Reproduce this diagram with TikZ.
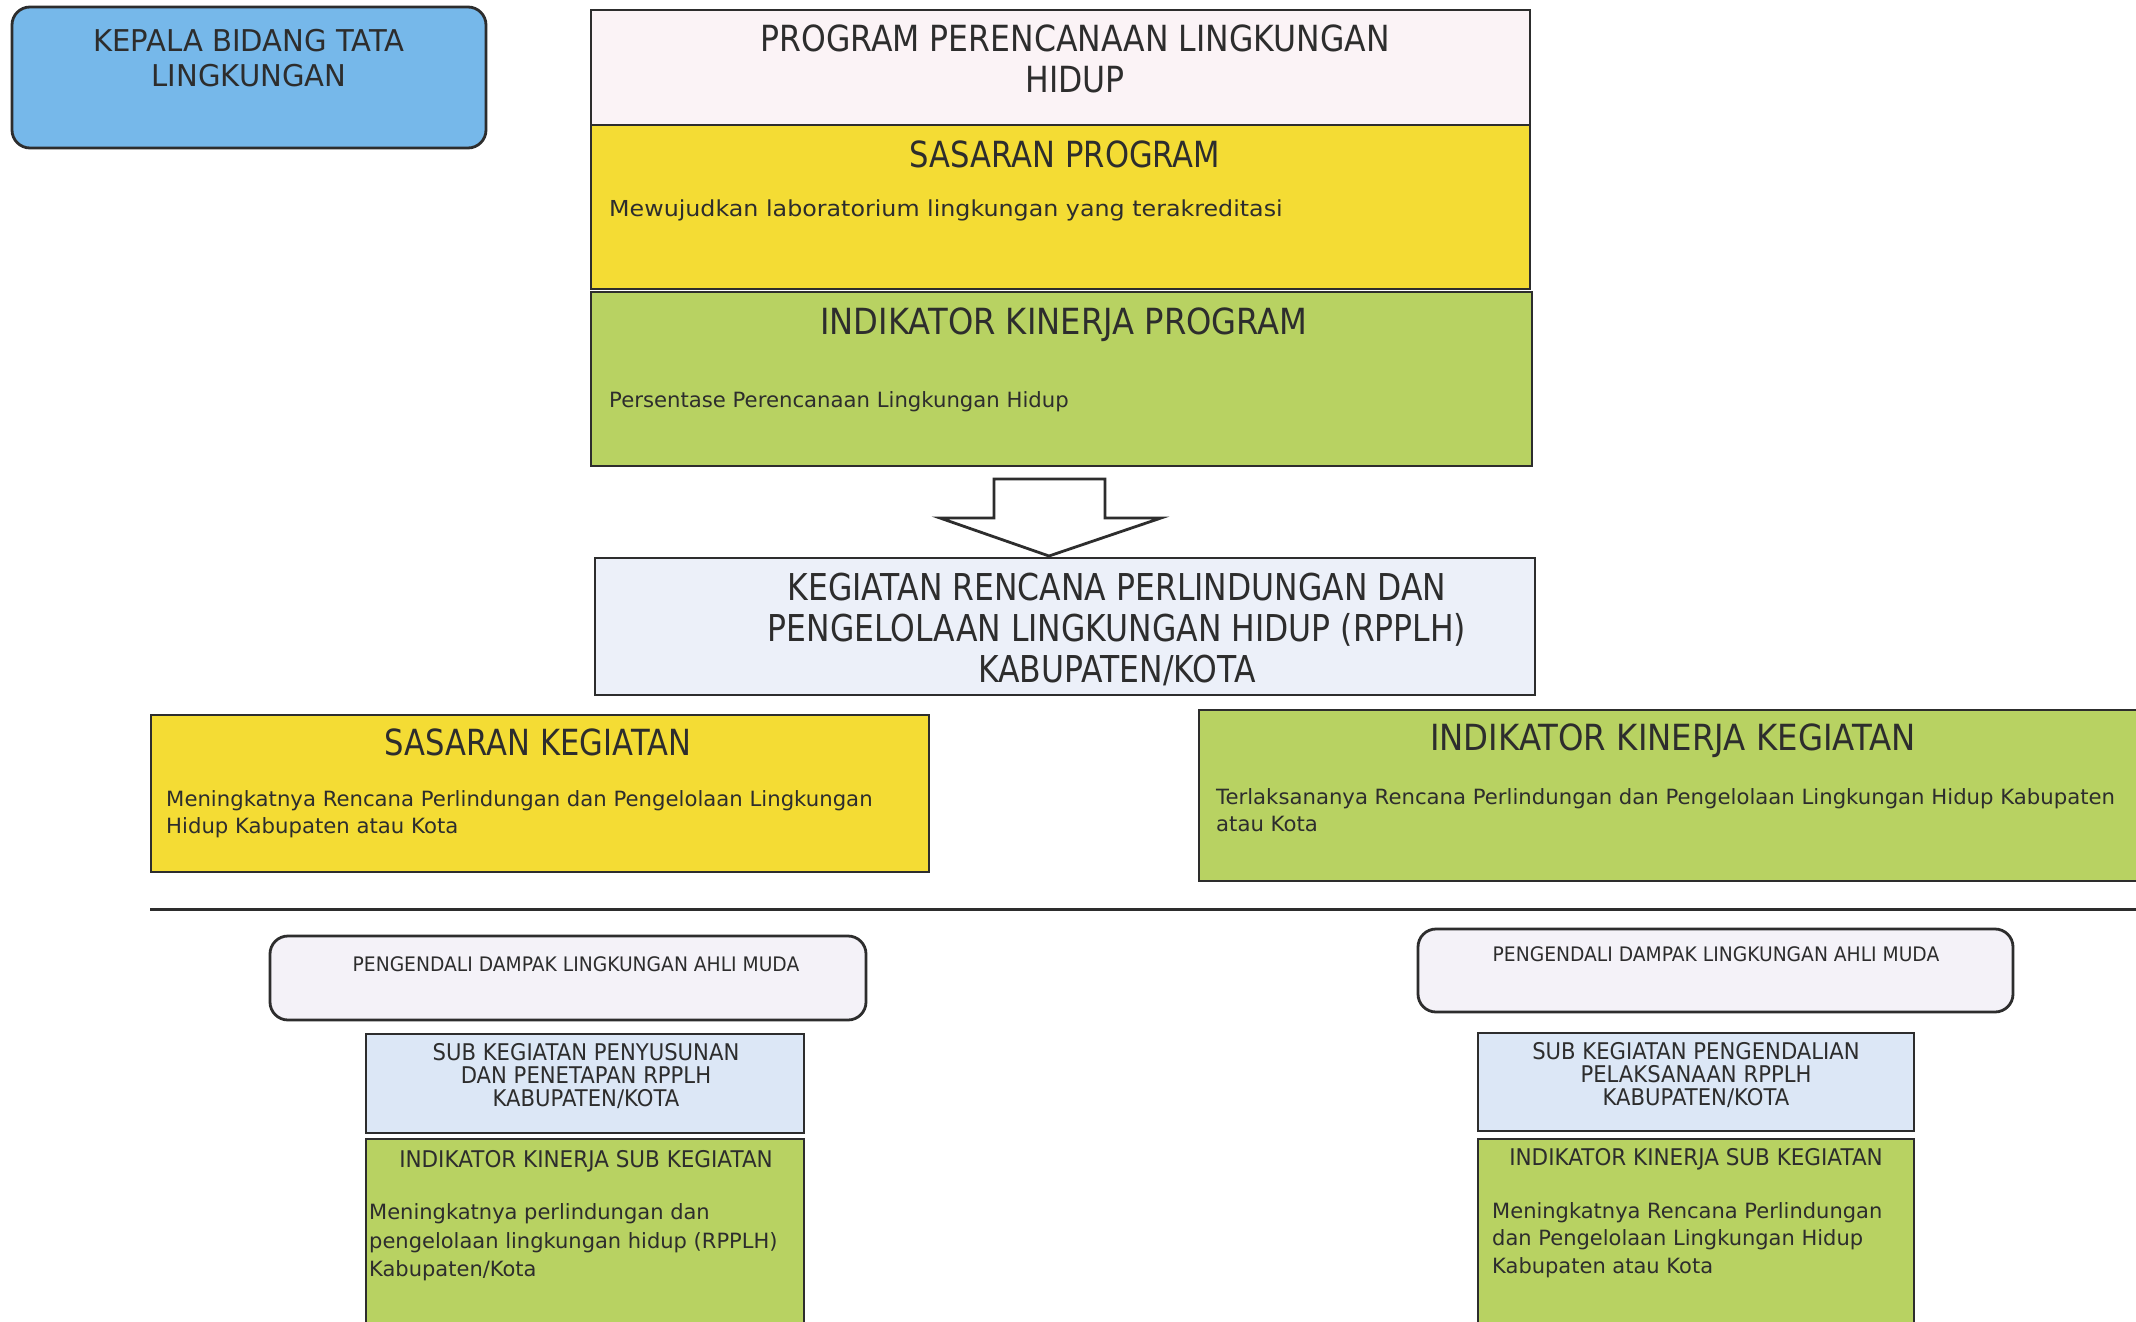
\documentclass[tikz,border=0pt]{standalone}
\usepackage{fontspec}
\setmainfont{DejaVu Sans}
\newcommand\tfnt[3]{\fontsize{#1}{#2}\selectfont\addfontfeature{FakeStretch=#3}}
\definecolor{kepalablue}{RGB}{118,184,234}
\definecolor{progpink}{RGB}{251,243,246}
\definecolor{yellowc}{RGB}{244,220,52}
\definecolor{greenc}{RGB}{184,210,98}
\definecolor{kegblue}{RGB}{236,240,249}
\definecolor{pengfill}{RGB}{244,242,248}
\definecolor{subblue}{RGB}{220,231,246}
\definecolor{inkc}{RGB}{45,45,45}
\begin{document}
\begin{tikzpicture}[x=1pt,y=-1pt,
  box/.style={draw=inkc, line width=2.8pt, inner sep=0pt},
  rbox/.style={box, rounded corners=18pt},
  lbl/.style={inner sep=0pt, align=center, text=inkc},
  body/.style={inner sep=0pt, align=left, anchor=west, text=inkc}]
\useasboundingbox (0,0) rectangle (2136,1322);
\fill[white] (0,0) rectangle (2136,1322);

% boxes
\node[rbox, fill=kepalablue, minimum width=474pt, minimum height=141pt] (kepala) at (249,77.5) {};
\node[box, fill=progpink, minimum width=939pt, minimum height=115pt] (program) at (1060.5,67.5) {};
\node[box, fill=yellowc, minimum width=939pt, minimum height=164pt] (sasprog) at (1060.5,207) {};
\node[box, fill=greenc, minimum width=941pt, minimum height=174pt] (indprog) at (1061.5,379) {};
\node[box, fill=kegblue, minimum width=940pt, minimum height=137pt] (kegiatan) at (1065,626.5) {};
\node[box, fill=yellowc, minimum width=778pt, minimum height=157pt] (saskeg) at (540,793.5) {};
\node[box, fill=greenc, minimum width=951pt, minimum height=171pt] (indkeg) at (1674.5,795.5) {};
\node[rbox, fill=pengfill, minimum width=596pt, minimum height=84pt] (pengL) at (568,978) {};
\node[box, fill=subblue, minimum width=438pt, minimum height=99pt] (subL) at (585,1083.5) {};
\node[box, fill=greenc, minimum width=438pt, minimum height=201pt] (indsubL) at (585,1239.5) {};
\node[rbox, fill=pengfill, minimum width=595pt, minimum height=83pt] (pengR) at (1715.5,970.5) {};
\node[box, fill=subblue, minimum width=436pt, minimum height=98pt] (subR) at (1696,1082) {};
\node[box, fill=greenc, minimum width=436pt, minimum height=201pt] (indsubR) at (1696,1239.5) {};

% separator line
\coordinate (sepL) at (150,909);
\coordinate (sepR) at (2140,909);
\draw[inkc, line width=3pt] (sepL) -- (sepR);

% hollow block arrow
\coordinate (a1) at (994,479);
\coordinate (a2) at (1105,479);
\coordinate (a3) at (1105,518);
\coordinate (a4) at (1161,518);
\coordinate (a5) at (1049,556);
\coordinate (a6) at (940,518);
\coordinate (a7) at (994,518);
\draw[inkc, line width=2.8pt, fill=white, line join=miter] (a1) -- (a2) -- (a3) -- (a4) -- (a5) -- (a6) -- (a7) -- cycle;

% texts
\node[lbl, font=\tfnt{30}{35}{0.97}] (tkepala) at (249,58.5) {KEPALA BIDANG TATA\\LINGKUNGAN};
\node[lbl, font=\tfnt{36}{41}{0.875}] (tprogram) at (1075,58.5) {PROGRAM PERENCANAAN LINGKUNGAN\\HIDUP};
\node[lbl, font=\tfnt{36}{40}{0.85}] (tsasprog) at (1065,154) {SASARAN PROGRAM};
\node[body, font=\tfnt{22}{30}{1.08}] (bsasprog) at (609,210) {Mewujudkan laboratorium lingkungan yang terakreditasi};
\node[lbl, font=\tfnt{36}{40}{0.895}] (tindprog) at (1064,325) {INDIKATOR KINERJA PROGRAM};
\node[body, font=\tfnt{21}{29}{1.01}] (bindprog) at (609,402) {Persentase Perencanaan Lingkungan Hidup};
\node[lbl, font=\tfnt{37}{41}{0.85}] (tkegiatan) at (1117,629) {KEGIATAN RENCANA PERLINDUNGAN DAN\\PENGELOLAAN LINGKUNGAN HIDUP (RPPLH)\\KABUPATEN/KOTA};
\node[lbl, font=\tfnt{36}{40}{0.85}] (tsaskeg) at (538,742) {SASARAN KEGIATAN};
\node[body, font=\tfnt{21}{27}{1.01}] (bsaskeg) at (166,814.5) {Meningkatnya Rencana Perlindungan dan Pengelolaan Lingkungan\\Hidup Kabupaten atau Kota};
\node[lbl, font=\tfnt{36}{39}{0.90}] (tindkeg) at (1673,741) {INDIKATOR KINERJA KEGIATAN};
\node[body, font=\tfnt{21}{27}{1.01}] (bindkeg) at (1216,810.5) {Terlaksananya Rencana Perlindungan dan Pengelolaan Lingkungan Hidup Kabupaten\\atau Kota};
\node[lbl, font=\tfnt{20}{24}{0.935}] (tpengL) at (576,964) {PENGENDALI DAMPAK LINGKUNGAN AHLI MUDA};
\node[lbl, font=\tfnt{23}{23}{0.92}] (tsubL) at (586,1076) {SUB KEGIATAN PENYUSUNAN\\DAN PENETAPAN RPPLH\\KABUPATEN/KOTA};
\node[lbl, font=\tfnt{23}{25}{0.935}] (tindsubL) at (586,1161) {INDIKATOR KINERJA SUB KEGIATAN};
\node[body, font=\tfnt{21}{28.5}{1.0}] (bindsubL) at (369,1242.5) {Meningkatnya perlindungan dan\\pengelolaan lingkungan hidup (RPPLH)\\Kabupaten/Kota};
\node[lbl, font=\tfnt{20}{24}{0.935}] (tpengR) at (1716,954) {PENGENDALI DAMPAK LINGKUNGAN AHLI MUDA};
\node[lbl, font=\tfnt{23}{23}{0.92}] (tsubR) at (1696,1075) {SUB KEGIATAN PENGENDALIAN\\PELAKSANAAN RPPLH\\KABUPATEN/KOTA};
\node[lbl, font=\tfnt{23}{25}{0.935}] (tindsubR) at (1696,1159) {INDIKATOR KINERJA SUB KEGIATAN};
\node[body, font=\tfnt{21}{27.5}{1.0}] (bindsubR) at (1492,1240) {Meningkatnya Rencana Perlindungan\\dan Pengelolaan Lingkungan Hidup\\Kabupaten atau Kota};
\end{tikzpicture}
\end{document}
